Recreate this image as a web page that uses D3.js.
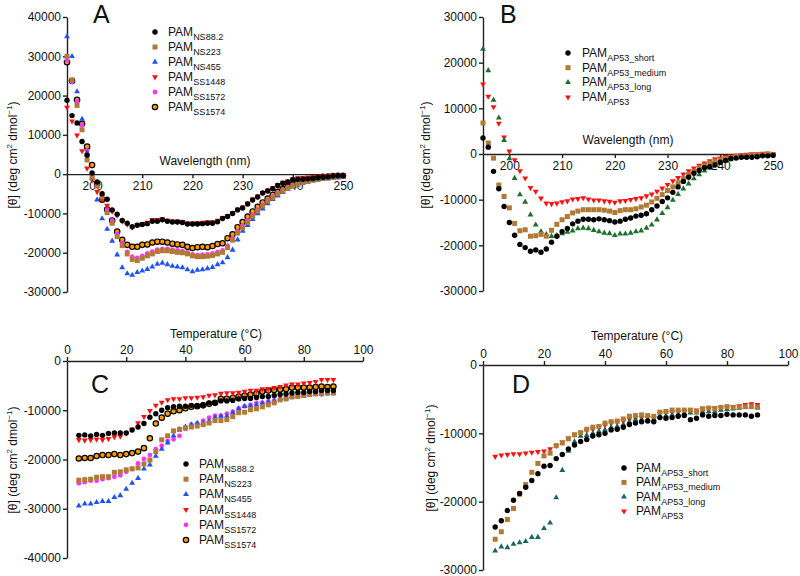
<!DOCTYPE html>
<html><head><meta charset="utf-8">
<script src="https://cdn.jsdelivr.net/npm/d3@7"></script>
<style>body{margin:0;background:#fff}svg{display:block}</style>
</head><body>
<script>
// ---------- DATA ----------
const wavelengths = [195,196,197,198,199,200,201,202,203,204,205,206,207,208,209,210,211,212,213,214,215,216,217,218,219,220,221,222,223,224,225,226,227,228,229,230,231,232,233,234,235,236,237,238,239,240,241,242,243,244,245,246,247,248,249,250];
const temperatures = [4,6,8,10,12,14,16,18,20,22,24,26,28,30,32,34,36,38,40,42,44,46,48,50,52,54,56,58,60,62,64,66,68,70,72,74,76,78,80,82,84,86,88,90];

// Panel A
const A_NS88_2 = [18800,14900,13000,8300,4800,300,-2000,-5000,-6400,-9100,-10200,-11800,-12500,-13400,-13000,-12800,-12600,-12000,-12000,-11600,-12000,-12200,-12200,-12300,-12700,-12700,-12700,-12600,-12500,-12500,-12100,-11300,-10800,-10000,-9100,-8600,-7600,-6600,-5800,-4800,-4300,-3700,-2900,-2300,-2000,-1400,-1300,-1300,-1200,-1100,-900,-800,-700,-500,-400,-400];
const A_NS223 = [30000,24000,17500,11300,3600,-800,-3000,-5800,-9800,-12500,-15900,-18200,-20300,-21700,-22000,-21400,-20800,-20300,-19700,-19500,-19500,-19700,-19900,-20000,-20300,-20800,-21000,-21000,-20900,-20700,-20300,-19900,-18700,-16800,-15000,-13700,-12300,-10700,-9400,-8100,-6900,-6000,-5000,-4300,-3600,-3000,-2500,-2100,-1800,-1500,-1300,-1100,-900,-800,-600,-500];
const A_NS455 = [35000,30000,21000,14000,5500,-1000,-6500,-11300,-14000,-17000,-20500,-23800,-25300,-25700,-25000,-24600,-24200,-23600,-22900,-22600,-23000,-23400,-23600,-23800,-24300,-24800,-24400,-24300,-24000,-23700,-23000,-22500,-21200,-19300,-16700,-14500,-13000,-11500,-10000,-8800,-7500,-6400,-5500,-4600,-3800,-3200,-2700,-2300,-2000,-1700,-1500,-1300,-1200,-1000,-900,-800];
const A_SS1448 = [17000,13500,9900,5900,1500,-1500,-4500,-6500,-8000,-9500,-10500,-12000,-12800,-13500,-12900,-12600,-12300,-11600,-11600,-11400,-11800,-12000,-12000,-12100,-12500,-12500,-12400,-12300,-12200,-12200,-11800,-11100,-10600,-9800,-8900,-8400,-7400,-6400,-5600,-4700,-4100,-3500,-2700,-2100,-1800,-1200,-1000,-900,-800,-700,-600,-500,-400,-300,-300,-200];
const A_SS1572 = [29000,23500,18500,12500,6000,-500,-3000,-5500,-9000,-11800,-15200,-17500,-19800,-21000,-21300,-20800,-20200,-19700,-19200,-19000,-19000,-19200,-19400,-19600,-19900,-20400,-20600,-20500,-20400,-20200,-19800,-19400,-18200,-16300,-14500,-13200,-11800,-10300,-9000,-7800,-6600,-5700,-4800,-4100,-3400,-2800,-2300,-1900,-1600,-1300,-1100,-900,-800,-600,-500,-400];
const A_SS1574 = [28500,23700,18900,12800,7000,2300,-2500,-6500,-9000,-11800,-14600,-16700,-18000,-18500,-18500,-18000,-17900,-17400,-17200,-17200,-17400,-17700,-17900,-18000,-18500,-18800,-18600,-18500,-18600,-18300,-17800,-17600,-16300,-15300,-13500,-12200,-10800,-9500,-8300,-7200,-6200,-5300,-4500,-3800,-3100,-2600,-2100,-1700,-1400,-1100,-900,-700,-600,-500,-400,-400];

// Panel B
const B_short = [3500,1500,-3800,-7600,-11500,-15000,-17800,-19800,-20500,-21300,-21000,-21500,-20800,-19300,-18000,-17000,-16300,-15300,-14700,-14300,-14300,-14400,-14200,-14400,-14600,-14900,-14700,-14300,-14000,-13600,-13400,-13100,-12200,-11400,-10400,-9600,-8400,-7200,-6000,-5100,-4200,-3600,-3000,-2800,-2400,-1800,-1400,-1000,-900,-700,-700,-700,-600,-400,-400,-300];
const B_medium = [6800,2400,-900,-6800,-9300,-11800,-15200,-16800,-16600,-18000,-17900,-17600,-18000,-16700,-15400,-14400,-13700,-12900,-12500,-12200,-12200,-12200,-12200,-12300,-12500,-12800,-12400,-12200,-12200,-12000,-11600,-11200,-10500,-9700,-8900,-8000,-7200,-6300,-5400,-4500,-3800,-3000,-2500,-2000,-1600,-1300,-1000,-800,-600,-500,-400,-300,-300,-200,-100,-200];
const B_long = [23000,18300,11800,7900,3000,-1000,-5300,-8900,-10500,-13300,-15500,-17000,-17600,-18000,-17800,-17400,-17100,-16800,-16300,-16200,-16300,-16700,-17000,-17300,-17400,-17800,-17500,-17500,-17300,-17000,-16800,-16200,-15500,-14400,-13000,-11700,-10100,-8800,-7600,-6500,-5400,-4500,-3700,-3000,-2400,-1900,-1500,-1200,-900,-700,-600,-500,-400,-300,-200,-200];
const B_AP53 = [15300,12600,10300,6700,3700,600,-1300,-3700,-5300,-7400,-8200,-9700,-10800,-10900,-10800,-10500,-10300,-9900,-9800,-9600,-9900,-10100,-10100,-10300,-10400,-10600,-10300,-10200,-10000,-9800,-9600,-9200,-8800,-8200,-7500,-6700,-5900,-5200,-4400,-3700,-3100,-2500,-2000,-1500,-1100,-900,-600,-500,-300,-200,-100,0,0,100,200,0];

// Panel C
const C_NS88_2 = [-15100,-15000,-15200,-14900,-15100,-14700,-14600,-14600,-14600,-14000,-13400,-12700,-11400,-10700,-10000,-9500,-9300,-9200,-9200,-9000,-9100,-8900,-8500,-8500,-8100,-8100,-8000,-7700,-7600,-7600,-7400,-7200,-7200,-7000,-6800,-6700,-6500,-6400,-6400,-6200,-6200,-6000,-6000,-6000];
const C_NS223 = [-24200,-24100,-24000,-23600,-23500,-23500,-22600,-22500,-22100,-21900,-21700,-20900,-20100,-18400,-16000,-15200,-14200,-13900,-13600,-13400,-13200,-12900,-12600,-12100,-12100,-11900,-11300,-10500,-10400,-9900,-9700,-9300,-8900,-8500,-7900,-7700,-7300,-7200,-7000,-6800,-6700,-6600,-6500,-6500];
const C_NS455 = [-29400,-29000,-29000,-28700,-28500,-28500,-27700,-27300,-26000,-24800,-23800,-21900,-21100,-19300,-17900,-16600,-15200,-13900,-13400,-12900,-12600,-12600,-12200,-11500,-11200,-11200,-10500,-9700,-9200,-9100,-8900,-8500,-8300,-8200,-7700,-7500,-7200,-7000,-6800,-6700,-6500,-6500,-6500,-6500];
const C_SS1448 = [-16000,-16100,-16000,-15900,-16000,-15800,-15400,-15300,-14700,-13900,-12600,-11300,-10100,-9000,-8400,-7900,-7700,-7700,-7500,-7500,-7400,-7300,-7000,-6900,-6600,-6500,-6500,-6400,-6200,-6000,-6000,-5700,-5600,-5400,-5200,-4900,-4700,-4700,-4500,-4400,-4200,-3800,-3800,-3800];
const C_SS1572 = [-24800,-24600,-24300,-24300,-24000,-23800,-23500,-23200,-22500,-21900,-20800,-19900,-19100,-17900,-17200,-16200,-15900,-15200,-13800,-12900,-12700,-12100,-11500,-11100,-11100,-10700,-10300,-9600,-9200,-8900,-8500,-8500,-8200,-8000,-7700,-7500,-7300,-7000,-6800,-6700,-6600,-6800,-6600,-6500];
const C_SS1574 = [-19800,-19700,-19700,-19300,-19100,-19100,-18900,-19100,-18900,-18700,-18400,-17700,-15700,-12700,-11500,-10700,-10200,-10000,-9600,-9300,-9200,-9000,-8700,-8500,-7700,-7700,-7500,-7200,-7000,-6800,-6600,-6200,-6000,-5900,-5800,-5700,-5400,-5400,-5400,-5400,-5300,-5200,-5300,-5200];

// Panel D
const D_short = [-23700,-22800,-21300,-19800,-18800,-17900,-16900,-15900,-14800,-14700,-13700,-13100,-12300,-11700,-11200,-10900,-10400,-10200,-10000,-9500,-9400,-9100,-8700,-8500,-8300,-8200,-8300,-7700,-7800,-7700,-7500,-7400,-8000,-7800,-7300,-7500,-7400,-7400,-7200,-7300,-7300,-7300,-7500,-7300];
const D_medium = [-25500,-24400,-22600,-21000,-18900,-17500,-15700,-14400,-13300,-12900,-11800,-11400,-10800,-10200,-9900,-9400,-9100,-9000,-8500,-8300,-8200,-7900,-7500,-7400,-7300,-7400,-7500,-6900,-6800,-6600,-6600,-6600,-6600,-6800,-6400,-6300,-6400,-6200,-6100,-6200,-6200,-6100,-6100,-6200];
const D_long = [-27200,-26600,-26700,-26200,-26000,-25800,-25200,-25200,-23900,-23100,-19400,-15400,-12600,-11200,-10400,-10300,-10000,-9700,-9500,-9100,-9000,-8700,-8300,-8000,-8000,-8000,-8000,-7500,-7400,-7300,-7200,-7100,-7000,-7000,-6800,-6800,-6800,-6600,-6500,-6400,-6300,-6100,-6100,-6100];
const D_AP53 = [-13400,-13200,-13100,-13000,-13000,-12900,-12800,-12700,-12600,-12300,-11800,-11300,-10700,-10200,-9900,-9600,-9400,-9100,-8800,-8500,-8400,-8200,-7900,-7800,-7700,-7700,-7800,-7100,-7000,-6900,-6900,-6800,-6800,-6600,-6400,-6400,-6300,-6300,-6200,-6100,-6000,-5800,-5700,-5800];

const namesNS = ["NS88.2","NS223","NS455","SS1448","SS1572","SS1574"];
const namesAP = ["AP53_short","AP53_medium","AP53_long","AP53"];
const ticksA = [40000,30000,20000,10000,0,-10000,-20000,-30000];
const ticksB = [30000,20000,10000,0,-10000,-20000,-30000];
const ticksC = [0,-10000,-20000,-30000,-40000];
const ticksD = [0,-10000,-20000,-30000];
const ticksWave = [200,210,220,230,240,250];
const ticksTemp = [0,20,40,60,80,100];

// ---------- STYLES ----------
const FONT = "'Liberation Sans', Arial, sans-serif";
const styleNS = [
  {shape:"circle", fill:"#000"},
  {shape:"square", fill:"#b07a35"},
  {shape:"tri", fill:"#1f52f2"},
  {shape:"itri", fill:"#ff1010"},
  {shape:"circle", fill:"#ff33ff", r:2.4},
  {shape:"circle", fill:"#ff9c00", stroke:"#000"}
];
const styleAP_B = [
  {shape:"circle", fill:"#000"},
  {shape:"square", fill:"#b07a35"},
  {shape:"tri", fill:"#1e6e2c"},
  {shape:"itri", fill:"#ff1010"}
];
const styleAP_D = [
  {shape:"circle", fill:"#000"},
  {shape:"square", fill:"#b07a35"},
  {shape:"tri", fill:"#1c6464"},
  {shape:"itri", fill:"#ff1010"}
];

const svg = d3.select("body").append("svg").attr("width",800).attr("height",576)
  .style("font-family", FONT);

function marker(g, st, cx, cy) {
  if (st.shape === "circle") {
    g.append("circle").attr("cx",cx).attr("cy",cy).attr("r", st.r || 2.7)
      .attr("fill", st.fill).attr("stroke", st.stroke || "none").attr("stroke-width", st.stroke ? 1.2 : 0);
  } else if (st.shape === "square") {
    g.append("rect").attr("x",cx-2.5).attr("y",cy-2.5).attr("width",5).attr("height",5).attr("fill",st.fill);
  } else {
    const p = d3.symbol().type(d3.symbolTriangle).size(15)();
    g.append("path").attr("d", p)
      .attr("transform", `translate(${cx},${cy})` + (st.shape === "itri" ? " rotate(180)" : ""))
      .attr("fill", st.fill);
  }
}

function panel(cfg) {
  const g = svg.append("g");
  const x = d3.scaleLinear().domain(cfg.xDomain).range(cfg.xRange);
  const y = d3.scaleLinear().domain(cfg.yDomain).range(cfg.yRange);
  const fmt = d => String(d);

  // axis titles (drawn first so tick labels stay on top)
  g.append("text").attr("x",cfg.xTitlePos[0]).attr("y",cfg.xTitlePos[1])
    .attr("text-anchor","middle").attr("font-size",12).attr("fill","#111").text(cfg.xTitle);
  const yt = g.append("text").attr("transform",`translate(${cfg.yTitlePos[0]},${cfg.yTitlePos[1]}) rotate(-90)`)
    .attr("text-anchor","middle").attr("font-size",12).attr("fill","#111");
  yt.append("tspan").text("[θ] (deg cm");
  yt.append("tspan").attr("font-size",8).attr("dy",-5).text("2");
  yt.append("tspan").attr("dy",5).text(" dmol");
  yt.append("tspan").attr("font-size",8).attr("dy",-5).text("−1");
  yt.append("tspan").attr("dy",5).text(")");

  const yAx = g.append("g").attr("transform",`translate(${cfg.xRange[0]},0)`)
    .call(d3.axisLeft(y).tickValues(cfg.yTicks).tickFormat(fmt).tickSize(4).tickSizeOuter(0).tickPadding(2));
  let xAx;
  if (cfg.top) {
    xAx = g.append("g").attr("transform",`translate(0,${y(0)})`)
      .call(d3.axisTop(x).tickValues(cfg.xTicks).tickFormat(fmt).tickSize(4).tickSizeOuter(0).tickPadding(3));
  } else {
    xAx = g.append("g").attr("transform",`translate(0,${y(0)})`)
      .call(d3.axisBottom(x).tickValues(cfg.xTicks).tickFormat(fmt).tickSize(4).tickSizeOuter(0).tickPadding(3));
  }
  [yAx, xAx].forEach(a => {
    a.attr("font-family", FONT).attr("font-size", 12);
    a.selectAll("path,line").attr("stroke","#222").attr("stroke-width",1.4);
    a.selectAll("text").attr("fill","#111");
  });
  if (cfg.xExtend) {
    g.append("line").attr("x1",cfg.xRange[1]).attr("x2",cfg.xRange[1]+cfg.xExtend)
      .attr("y1",y(0)).attr("y2",y(0)).attr("stroke","#222").attr("stroke-width",1.4);
  }

  // panel letter
  g.append("text").attr("x",cfg.letterPos[0]).attr("y",cfg.letterPos[1])
    .attr("font-size",25).attr("fill","#111").text(cfg.letter);

  // points (reverse order so first series on top)
  for (let i = cfg.series.length - 1; i >= 0; i--) {
    const s = cfg.series[i], st = cfg.styles[i];
    const pg = g.append("g");
    s.forEach((v, j) => marker(pg, st, x(cfg.xs[j]), y(v)));
  }

  // legend
  const lg = g.append("g");
  cfg.names.forEach((n, i) => {
    const yy = cfg.legend.y0 + i * cfg.legend.dy;
    marker(lg, cfg.styles[i], cfg.legend.mx, yy);
    const t = lg.append("text").attr("x", cfg.legend.tx).attr("y", yy + 4)
      .attr("font-size", 12).attr("fill","#111");
    t.append("tspan").text("PAM");
    t.append("tspan").attr("font-size", 9).attr("dy", 4).text(n);
  });
}

panel({
  letter:"A", letterPos:[93,23],
  xs:wavelengths, series:[A_NS88_2,A_NS223,A_NS455,A_SS1448,A_SS1572,A_SS1574], styles:styleNS, names:namesNS,
  xDomain:[195,250], xRange:[67,343], yDomain:[-30000,40000], yRange:[292,17],
  yTicks:ticksA, xTicks:ticksWave, top:false, xExtend:3,
  xTitle:"Wavelength (nm)", xTitlePos:[205,165], yTitlePos:[17,155],
  legend:{mx:155, tx:168, y0:32, dy:15}
});
panel({
  letter:"B", letterPos:[500,23],
  xs:wavelengths, series:[B_short,B_medium,B_long,B_AP53], styles:styleAP_B, names:namesAP,
  xDomain:[195,250], xRange:[483,773], yDomain:[-30000,30000], yRange:[291,17],
  yTicks:ticksB, xTicks:ticksWave, top:false, xExtend:3,
  xTitle:"Wavelength (nm)", xTitlePos:[628,144], yTitlePos:[430,155],
  legend:{mx:568, tx:582, y0:53, dy:14.7}
});
panel({
  letter:"C", letterPos:[91,393],
  xs:temperatures, series:[C_NS88_2,C_NS223,C_NS455,C_SS1448,C_SS1572,C_SS1574], styles:styleNS, names:namesNS,
  xDomain:[0,100], xRange:[67,363], yDomain:[-40000,0], yRange:[558,361],
  yTicks:ticksC, xTicks:ticksTemp, top:true,
  xTitle:"Temperature (°C)", xTitlePos:[216,338], yTitlePos:[17,460],
  legend:{mx:186, tx:199, y0:464, dy:15.2}
});
panel({
  letter:"D", letterPos:[512,393],
  xs:temperatures, series:[D_short,D_medium,D_long,D_AP53], styles:styleAP_D, names:namesAP,
  xDomain:[0,100], xRange:[483,788], yDomain:[-30000,0], yRange:[570,365],
  yTicks:ticksD, xTicks:ticksTemp, top:true,
  xTitle:"Temperature (°C)", xTitlePos:[637,340], yTitlePos:[435,458],
  legend:{mx:624, tx:636, y0:468, dy:14.4}
});
</script>
</body></html>
